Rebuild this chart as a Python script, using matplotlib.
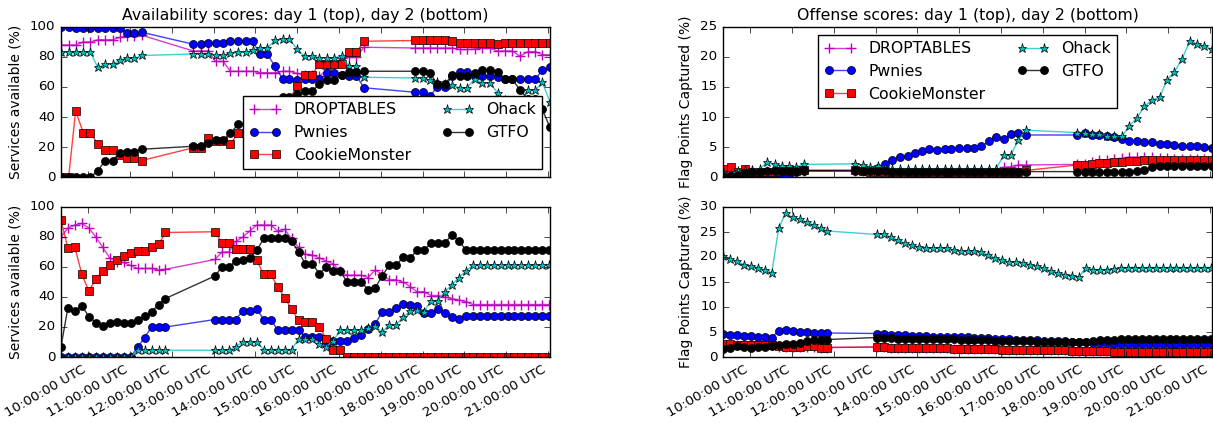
import matplotlib
matplotlib.use("Agg")
import matplotlib.pyplot as plt
import numpy as np

# ---- sample times (UTC) ----
day1_times = [
    "09:21", "09:32", "09:42", "09:53", "10:03", "10:14", "10:24", "10:35", "10:45", "10:56", "11:06", "11:17",
    "12:31", "12:42", "12:52", "13:03", "13:14", "13:24", "13:35", "13:46", "13:56", "14:07", "14:17", "14:28",
    "14:39", "14:49", "15:00", "15:11", "15:21", "15:32", "15:43", "15:53", "16:04", "16:14", "16:25", "16:36",
    "17:49", "18:00", "18:11", "18:21", "18:32", "18:43", "18:54", "19:04", "19:15", "19:26", "19:37", "19:48",
    "19:58", "20:09", "20:20", "20:31", "20:42", "20:52", "21:03",
]
day2_times = [
    "09:21", "09:31", "09:41", "09:51", "10:01", "10:11", "10:21", "10:31", "10:41", "10:51", "11:01", "11:11",
    "11:21", "11:31", "11:41", "11:51",
    "13:02", "13:12", "13:22", "13:32", "13:42", "13:52", "14:02", "14:12", "14:22", "14:32", "14:42", "14:52",
    "15:02", "15:12", "15:22", "15:32", "15:42", "15:52", "16:02", "16:12", "16:22", "16:32", "16:42", "16:52",
    "17:02", "17:12", "17:22", "17:32", "17:42", "17:52", "18:02", "18:12", "18:22", "18:32", "18:42", "18:52",
    "19:02", "19:12", "19:22", "19:32", "19:42", "19:52", "20:02", "20:12", "20:22", "20:32", "20:42", "20:52",
    "21:02",
]

teams = ["DROPTABLES", "Pwnies", "CookieMonster", "Ohack", "GTFO"]

# ---- availability, day 1 ----
droptables_av1 = [88, 88, 88, 90, 90, 91.5, 91.5, 91.5, 93, 94, 94, 94.5,
                  84, 84, 84, 77, 77, 70.5, 70.5, 70.5, 70.5, 69.5, 69.5, 69.5, 70.5, 70.5, 69, 68, 68, 67, 72, 75,
                  79, 80, 80, 86.5,
                  86, 86, 86, 86, 86, 86, 85, 85, 85.5, 86, 86, 84, 84, 84, 80.5, 83.5, 83.5, 81.5, 81.5]
pwnies_av1 = [100, 100, 99.5, 99, 99, 99, 99, 99, 99, 96, 96, 96.5,
              88.5, 88.5, 89.5, 89.5, 89.5, 90.5, 90.5, 90.5, 90.5, 82, 82, 74, 65.5, 65.5, 64.5, 65, 65, 65, 69, 69,
              68, 67.5, 67.5, 59.5,
              56.5, 56.5, 54, 60, 60, 67.5, 70, 70, 68, 67.5, 67.5, 66.5, 65.5, 65.5, 65.5, 65, 65, 71.5, 73]
cookie_av1 = [0, 0, 44, 29.5, 29.5, 22, 18, 18, 15, 12.5, 12.5, 11,
              19.5, 19.5, 26, 24, 24, 22, 29, 29, 33, 37, 41, 45, 48, 52, 60.5, 68, 68, 75.5, 75.5, 75.5,
              75.5, 83, 83, 90.5,
              91, 91, 91.5, 91, 91, 90.5, 89.5, 89.5, 89, 89, 89, 88.5, 89, 89, 89, 89, 89, 89, 89]
ohack_av1 = [83, 83, 83, 83, 83, 73, 75, 75, 78, 79, 79, 81,
             82, 82, 82, 81, 81, 82.5, 83, 83, 84.5, 86, 86, 91, 92, 92, 85, 80.5, 80.5, 79.5, 79.5, 79.5,
             80.5, 74, 74, 66.5,
             66, 66, 64.5, 63, 62, 61, 59.5, 59.5, 65.5, 62.5, 62.5, 56, 51, 50, 49, 58, 58, 63, 50]
gtfo_av1 = [0, 0, 0, 0, 0, 4, 11, 11, 16, 17, 17, 18.5,
            20.5, 20.5, 22.5, 25, 25, 29, 35, 35, 42, 50, 50, 51, 53.5, 53.5, 55.5, 57, 57, 62, 64.5, 64.5,
            68, 70, 70, 70.5,
            70.5, 70.5, 69, 62, 62, 68, 67, 67, 69, 71, 71, 70, 65, 65, 58, 52, 52, 45, 33]

# ---- availability, day 2 ----
droptables_av2 = [80, 86, 88, 89, 86, 80, 73, 66, 63.5, 63, 61, 59, 59, 59, 58, 58.5,
                  65, 70, 70, 77, 80, 84, 88, 88, 88, 84, 85, 79, 73, 68.5, 68, 66, 64, 62, 57, 54.5,
                  54.5, 54.5, 53, 58, 55, 51.5, 51.5, 50, 47, 43.5, 43.5, 41, 41, 40, 39, 38, 37, 35,
                  35, 35, 35, 35, 35, 35, 35, 35, 35, 35, 35]
pwnies_av2 = [0, 0, 0, 0, 0, 0, 0, 0, 0, 0, 0, 6.5, 13, 20, 20, 20,
              25, 25, 25, 25, 31, 31, 32, 25, 25, 18, 18, 18, 18, 13.5, 13.5, 13.5, 9, 10.5, 10.5, 10.5,
              13, 15, 19, 22, 30, 30, 32.5, 35.5, 34.5, 34, 29.5, 29.5, 32, 29.5, 27, 25.5, 27.5,
              27.5, 27.5, 27.5, 27.5, 27.5, 27.5, 27.5, 27.5, 27.5, 27.5, 27.5, 27.5]
cookie_av2 = [91, 72.5, 73, 55, 44, 52, 57.5, 61.5, 64.5, 67.5, 69, 70.5, 70.5, 73.5, 75, 83,
              83.5, 76, 76, 72, 72, 72, 64.5, 55, 55, 47, 39.5, 32, 24.5, 23.5, 23.5, 20, 12, 4.5, 4.5,
              0, 0, 0, 0, 0, 0, 0, 0, 0, 0, 0, 0, 0, 0, 0, 0, 0, 0, 0, 0, 0, 0, 0, 0, 0, 0, 0, 0, 0, 0]
ohack_av2 = [0, 0, 0, 0, 0, 0, 0, 0, 0, 0, 0, 4.5, 4.5, 4.5, 4.5, 4.5,
             4.5, 4.5, 4.5, 7, 10, 10, 10, 5, 5, 5, 5, 5, 12, 12, 12, 9, 7, 11, 18, 18, 18, 18,
             19.5, 20.5, 16.5, 21.5, 21.5, 26.5, 30.5, 31.5, 30, 37.5, 37.5, 43.5, 48, 53, 57, 61,
             61, 61, 61, 61, 61, 61, 61, 61, 61, 61, 61]
gtfo_av2 = [7, 33, 31, 34, 27, 23, 21, 23, 23.5, 22.5, 22.5, 25, 27.5, 30, 35, 39,
            54, 60, 60, 64, 64.5, 66, 71, 79, 79, 79, 79, 77.5, 70, 62, 62, 55.5, 60, 57, 57, 50, 50, 50,
            45, 46, 54, 61, 61, 66.5, 66, 71, 71, 76, 76, 76, 81.5, 77.5, 71.5,
            71, 71, 71, 71, 71, 71, 71, 71, 71, 71, 71, 71]

# ---- offense, day 1 ----
droptables_of1 = [0.5, 0.8, 0.7, 0.9, 1.0, 1.0, 1.0, 1.0, 1.0, 1.0, 1.0, 1.0,
                  1.0, 1.0, 1.0, 1.0, 1.0, 1.0, 1.0, 1.0, 1.0, 1.0, 1.0, 1.0, 1.0, 1.0, 1.0, 1.0, 1.0, 1.0,
                  1.0, 1.2, 1.6, 1.7, 2.0, 2.0,
                  2.1, 2.2, 2.5, 2.8, 2.9, 3.0, 3.1, 3.3, 3.3, 3.3, 3.3, 3.2, 3.1, 3.0, 3.0, 3.0, 3.0, 3.0, 3.0]
pwnies_of1 = [0.2, 0.2, 0.2, 0.2, 0.2, 0.2, 0.2, 0.2, 0.2, 0.2, 0.8, 1.0,
              1.0, 1.0, 1.1, 1.5, 2.2, 2.9, 3.3, 3.5, 4.0, 4.3, 4.7, 4.5, 4.6, 4.6, 4.8, 4.9, 4.9, 5.1,
              6.0, 6.7, 6.3, 7.1, 7.3, 7.0,
              7.0, 7.3, 7.0, 7.0, 6.8, 6.6, 6.3, 6.0, 6.0, 5.9, 5.8, 5.5, 5.5, 5.3, 5.2, 5.2, 5.2, 5.0, 4.9]
cookie_of1 = [1.4, 1.7, 0.8, 1.3, 0.8, 0.9, 0.9, 0.9, 1.0, 1.0, 1.0, 1.1,
              1.1, 1.0, 0.8, 0.9, 0.9, 0.8, 0.8, 0.8, 0.8, 0.8, 0.8, 0.8, 0.8, 0.8, 0.8, 0.8, 0.8, 0.8,
              0.8, 0.8, 0.8, 0.8, 0.9, 1.1,
              2.0, 2.0, 2.2, 2.4, 2.4, 2.5, 2.5, 2.6, 2.6, 2.8, 2.8, 2.8, 2.8, 2.8, 2.8, 2.8, 2.8, 2.8, 2.8]
ohack_of1 = [0.8, 0.5, 1.0, 1.2, 1.2, 1.3, 2.5, 2.1, 1.9, 1.8, 1.7, 2.1,
             2.2, 2.0, 1.7, 1.8, 1.5, 1.4, 1.4, 1.4, 1.4, 1.4, 1.4, 1.4, 1.4, 1.4, 1.4, 1.4, 1.4, 1.4,
             1.4, 1.4, 3.6, 3.6, 6.2, 7.8,
             7.4, 7.4, 7.1, 7.1, 6.9, 6.8, 6.8, 8.5, 9.8, 11.8, 12.8, 13.3, 16.1, 17.5, 19.7, 22.6, 22.2,
             21.8, 21.3]
gtfo_of1 = [0.2, 0.2, 0.4, 0.6, 0.8, 0.9, 1.0, 1.0, 1.0, 1.0, 1.0, 1.1,
            1.1, 1.0, 1.0, 1.0, 1.0, 0.9, 0.9, 0.9, 0.9, 0.8, 0.8, 0.8, 0.8, 0.8, 0.8, 0.8, 0.8, 0.8,
            0.8, 0.8, 0.8, 0.8, 0.9, 0.9,
            0.9, 0.9, 0.9, 0.9, 0.9, 0.9, 0.8, 0.9, 1.0, 1.1, 1.7, 1.8, 1.8, 1.8, 1.8, 1.8, 1.9, 1.9, 1.9]

# ---- offense, day 2 ----
droptables_of2 = [2.5, 2.5, 2.5, 2.5, 2.5, 2.5, 2.4, 2.4, 2.1, 2.0, 2.0, 2.0, 2.1, 2.1, 1.9, 1.9,
                  2.0, 2.0, 1.8, 1.8, 1.8, 1.8, 1.8, 1.8, 1.8, 1.8, 1.8, 1.6, 1.6, 1.6, 1.6, 1.6, 1.6, 1.6,
                  1.5, 1.5, 1.5, 1.5, 1.5, 1.5, 1.5, 1.4, 1.4, 1.4, 1.3, 1.3, 1.3, 1.3, 1.3, 1.3,
                  1.1, 1.1, 1.1, 1.1, 1.1, 1.1, 1.1, 1.1, 1.1, 1.1, 1.1, 1.1, 1.1, 1.1, 1.1]
pwnies_of2 = [4.6, 4.5, 4.4, 4.2, 4.2, 4.1, 4.0, 3.9, 5.3, 5.4, 5.3, 5.1, 5.0, 4.9, 4.8, 4.8,
              4.7, 4.7, 4.5, 4.4, 4.4, 4.3, 4.2, 4.2, 4.1, 4.1, 4.1, 4.0, 4.0, 4.0, 3.9, 3.9, 3.8, 3.7,
              3.7, 3.6, 3.5, 3.5, 3.4, 3.4, 3.3, 3.3, 3.2, 3.2, 3.1, 3.1, 3.0, 2.9, 2.8, 2.8, 2.7, 2.7,
              2.6, 2.6, 2.6, 2.6, 2.6, 2.6, 2.6, 2.6, 2.6, 2.6, 2.6, 2.6, 2.6]
cookie_of2 = [2.6, 2.6, 2.5, 2.5, 2.5, 2.5, 2.4, 2.4, 2.2, 2.0, 2.0, 2.1, 2.2, 2.2, 1.9, 1.9,
              2.0, 2.0, 1.8, 1.8, 1.8, 1.8, 1.8, 1.8, 1.8, 1.8, 1.8, 1.6, 1.6, 1.6, 1.6, 1.6, 1.6, 1.6,
              1.5, 1.5, 1.5, 1.5, 1.5, 1.5, 1.5, 1.4, 1.4, 1.4, 1.3, 1.3, 1.3, 1.3, 1.3, 1.3,
              1.1, 1.1, 1.1, 1.1, 1.1, 1.1, 1.1, 1.1, 1.1, 1.1, 1.1, 1.1, 1.1, 1.1, 1.1]
ohack_of2 = [20.1, 19.6, 19.1, 18.5, 18.2, 17.9, 17.4, 16.9, 25.8, 28.8, 27.9, 27.5, 27.0, 26.4, 25.8, 25.2,
             24.5, 24.6, 24.0, 23.3, 22.8, 22.3, 22.0, 21.8, 21.8, 21.8, 21.8, 21.4, 21.1, 21.1, 21.1, 20.9,
             20.4, 19.8, 19.4, 19.0, 19.0, 18.8, 18.5, 18.1, 17.8, 17.2, 16.8, 16.5, 16.3, 16.0, 17.9, 17.5,
             17.5, 17.5, 17.7, 17.9, 17.9, 17.9, 17.9, 17.9, 17.9, 17.9, 17.9, 17.9, 17.9, 17.9, 17.9, 17.9,
             17.9]
gtfo_of2 = [1.7, 1.8, 2.2, 2.0, 1.9, 2.0, 2.1, 2.3, 2.5, 2.6, 2.7, 2.9, 3.2, 3.4, 3.5, 3.5,
            3.9, 3.9, 3.8, 3.7, 3.7, 3.6, 3.6, 3.6, 3.6, 3.6, 3.6, 3.6, 3.5, 3.5, 3.5, 3.4, 3.4, 3.3,
            3.3, 3.3, 3.2, 3.2, 3.2, 3.1, 3.1, 3.1, 3.0, 3.0, 3.0, 3.0, 3.1, 3.3, 3.4, 3.5, 3.5, 3.6,
            3.7, 3.7, 3.7, 3.7, 3.7, 3.7, 3.7, 3.7, 3.7, 3.7, 3.7, 3.7, 3.7]

tick_hours = [10, 11, 12, 13, 14, 15, 16, 17, 18, 19, 20, 21]
tick_labels = ["10:00:00 UTC", "11:00:00 UTC", "12:00:00 UTC", "13:00:00 UTC", "14:00:00 UTC",
               "15:00:00 UTC", "16:00:00 UTC", "17:00:00 UTC", "18:00:00 UTC", "19:00:00 UTC",
               "20:00:00 UTC", "21:00:00 UTC"]


def to_hours(times):
    return np.array([int(s[:2]) + int(s[3:]) / 60.0 for s in times])


t1 = to_hours(day1_times)
t2 = to_hours(day2_times)
xmin = min(t1.min(), t2.min())
xmax = max(t1.max(), t2.max())

# line colour (with alpha), marker, face colour, edge colour, size, edge width
styles = [
    ((0.75, 0.0, 0.75, 0.75), "+", (0.75, 0.0, 0.75), (0.75, 0.0, 0.75), 6.5, 1.0),
    ((0.0, 0.0, 1.0, 0.75), "o", (0.0, 0.0, 1.0), "k", 5.8, 0.5),
    ((1.0, 0.0, 0.0, 0.75), "s", (1.0, 0.0, 0.0), "k", 5.8, 0.5),
    ((0.0, 0.75, 0.75, 0.75), "*", (0.0, 0.75, 0.75), "k", 6.5, 0.5),
    ((0.0, 0.0, 0.0, 0.8), "o", (0.0, 0.0, 0.0), "k", 5.8, 0.5),
]

plt.style.use("classic")
plt.rcParams.update({
    "figure.facecolor": "white",
    "savefig.facecolor": "white",
    "font.family": "DejaVu Sans",
    "font.size": 9.4,
    "axes.titlesize": 11.3,
    "axes.labelsize": 10,
    "xtick.labelsize": 9.6,
    "ytick.labelsize": 9.6,
    "legend.fontsize": 11.3,
})

fig = plt.figure(figsize=(12.13, 4.23), dpi=100)
W, H = 1213.0, 423.0
ax_tl = fig.add_axes([61 / W, 1 - 177 / H, 489 / W, 150 / H])
ax_bl = fig.add_axes([61 / W, 1 - 357 / H, 489 / W, 150 / H])
ax_tr = fig.add_axes([723 / W, 1 - 177 / H, 489 / W, 150 / H])
ax_br = fig.add_axes([723 / W, 1 - 357 / H, 489 / W, 150 / H])

panels = [
    (ax_tl, t1, [droptables_av1, pwnies_av1, cookie_av1, ohack_av1, gtfo_av1]),
    (ax_bl, t2, [droptables_av2, pwnies_av2, cookie_av2, ohack_av2, gtfo_av2]),
    (ax_tr, t1, [droptables_of1, pwnies_of1, cookie_of1, ohack_of1, gtfo_of1]),
    (ax_br, t2, [droptables_of2, pwnies_of2, cookie_of2, ohack_of2, gtfo_of2]),
]

for ax, t, series in panels:
    for name, vals, (lc, mk, fc, ec, ms, mew) in zip(teams, series, styles):
        ax.plot(t, vals, color=lc, lw=1.0, marker=mk, markerfacecolor=fc,
                markeredgecolor=ec, markersize=ms, markeredgewidth=mew, label=name)
    ax.set_xlim(xmin, xmax)
    ax.set_xticks(tick_hours)

for ax in (ax_tl, ax_tr):
    ax.set_xticklabels([])
for ax in (ax_bl, ax_br):
    ax.set_xticklabels(tick_labels, rotation=30, ha="right")

ax_tl.set_ylim(0, 100)
ax_bl.set_ylim(0, 100)
ax_tr.set_ylim(0, 25)
ax_br.set_ylim(0, 30)
ax_tl.set_yticks([0, 20, 40, 60, 80, 100])
ax_bl.set_yticks([0, 20, 40, 60, 80, 100])
ax_tr.set_yticks([0, 5, 10, 15, 20, 25])
ax_br.set_yticks([0, 5, 10, 15, 20, 25, 30])

ax_tl.set_ylabel("Services available (%)")
ax_bl.set_ylabel("Services available (%)")
ax_tr.set_ylabel("Flag Points Captured (%)")
ax_br.set_ylabel("Flag Points Captured (%)")

ax_tl.set_title("Availability scores: day 1 (top), day 2 (bottom)")
ax_tr.set_title("Offense scores: day 1 (top), day 2 (bottom)")

ax_tl.legend(loc="lower right", ncol=2, numpoints=2)
ax_tr.legend(loc="upper center", ncol=2, numpoints=2)

plt.savefig("out.png", dpi=100)
